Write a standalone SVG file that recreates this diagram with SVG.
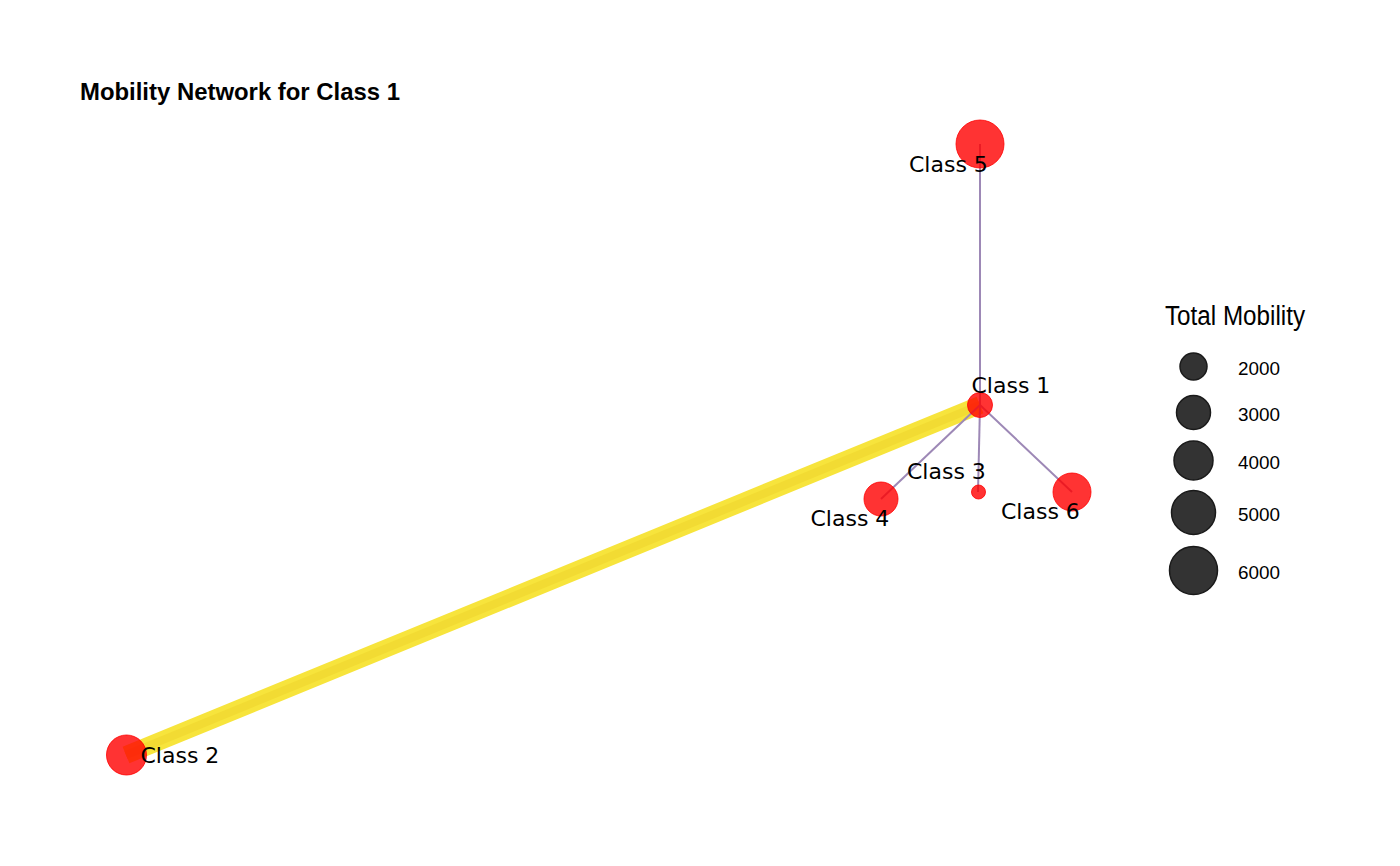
<svg xmlns="http://www.w3.org/2000/svg" width="1400" height="866" viewBox="0 0 1400 866">
<style>
.lbl{font-family:"DejaVu Sans",sans-serif;font-size:22px;fill:#000}
.node{fill:#ff0000;fill-opacity:0.8;stroke:#ff0000;stroke-opacity:0.8;stroke-width:1}
.thin{stroke:#9d88b6;stroke-width:2;fill:none}
.leg{fill:#333333;stroke:#1a1a1a;stroke-width:1.5}
.legt{font-family:"Liberation Sans",Arial,sans-serif;font-size:19px;fill:#000}
</style>
<rect width="1400" height="866" fill="#ffffff"/>
<text x="80" y="100" font-family="'Liberation Sans',Arial,sans-serif" font-weight="bold" font-size="24" textLength="320" lengthAdjust="spacingAndGlyphs">Mobility Network for Class 1</text>
<g id="connectors">
<line x1="126" y1="755" x2="980" y2="405" stroke="#f7e43c" stroke-width="18"/>
<line x1="126" y1="755" x2="980" y2="405" stroke="#f2db33" stroke-width="8"/>
<line class="thin" x1="980" y1="405" x2="980" y2="144"/>
<line class="thin" x1="980" y1="405" x2="978" y2="492"/>
<line class="thin" x1="980" y1="405" x2="881" y2="499"/>
<line class="thin" x1="980" y1="405" x2="1072" y2="492"/>
</g>
<g id="class5"><circle class="node" cx="980" cy="144" r="24"/><text class="lbl" x="909" y="172">Class 5</text></g>
<g id="class1"><circle class="node" cx="980" cy="405" r="12.5"/><text class="lbl" x="971.5" y="393">Class 1</text></g>
<g id="class3"><circle class="node" cx="978.5" cy="492" r="7"/><text class="lbl" x="907" y="479">Class 3</text></g>
<g id="class4"><circle class="node" cx="881" cy="499" r="17"/><text class="lbl" x="810.5" y="526">Class 4</text></g>
<g id="class6"><circle class="node" cx="1072" cy="492" r="19"/><text class="lbl" x="1001" y="519">Class 6</text></g>
<g id="class2"><circle class="node" cx="126.5" cy="755" r="20"/><text class="lbl" x="140.5" y="763">Class 2</text></g>
<g id="legend">
<text x="1165" y="325" font-family="'Liberation Sans',Arial,sans-serif" font-size="27" textLength="140" lengthAdjust="spacingAndGlyphs">Total Mobility</text>
<circle class="leg" cx="1193.5" cy="366.5" r="13.5"/>
<circle class="leg" cx="1193.5" cy="412.5" r="17"/>
<circle class="leg" cx="1193.5" cy="460.5" r="19.5"/>
<circle class="leg" cx="1193.5" cy="512.5" r="22"/>
<circle class="leg" cx="1193.5" cy="570.5" r="24"/>
<text class="legt" x="1238" y="375" textLength="42" lengthAdjust="spacingAndGlyphs">2000</text>
<text class="legt" x="1238" y="421" textLength="42" lengthAdjust="spacingAndGlyphs">3000</text>
<text class="legt" x="1238" y="469" textLength="42" lengthAdjust="spacingAndGlyphs">4000</text>
<text class="legt" x="1238" y="521" textLength="42" lengthAdjust="spacingAndGlyphs">5000</text>
<text class="legt" x="1238" y="579" textLength="42" lengthAdjust="spacingAndGlyphs">6000</text>
</g>
</svg>
